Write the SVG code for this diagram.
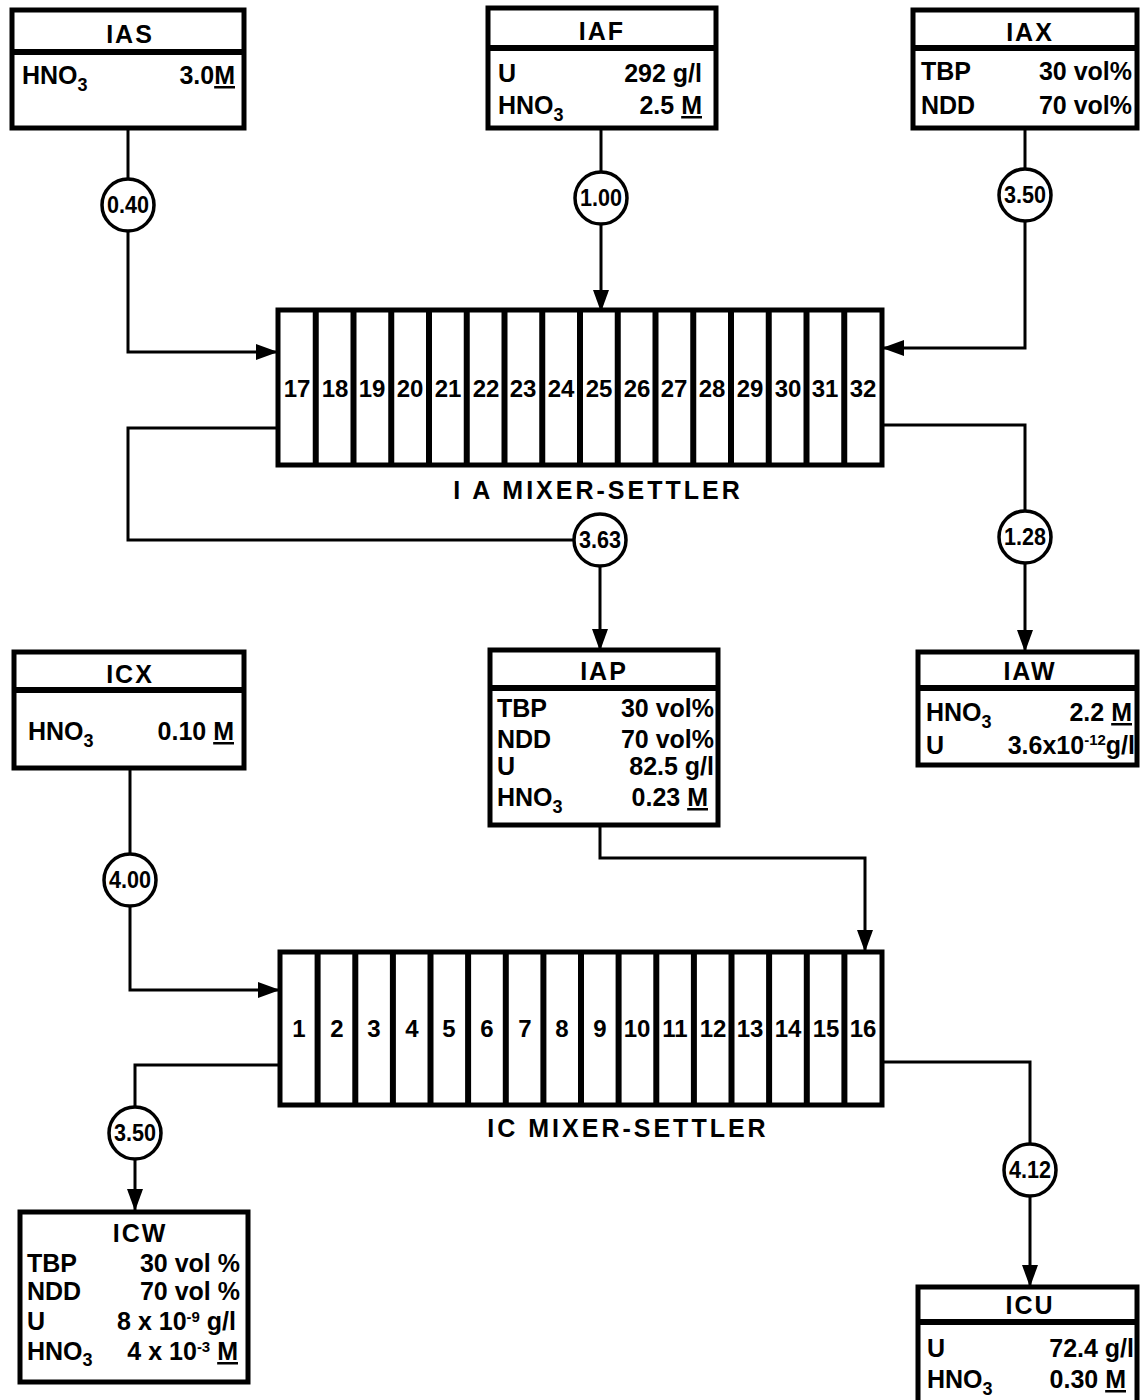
<svg xmlns="http://www.w3.org/2000/svg" width="1140" height="1400" viewBox="0 0 1140 1400">
<style>
text{font-family:"Liberation Sans",Arial,sans-serif;font-weight:bold;fill:#000}
.box{fill:#fff;stroke:#000;stroke-width:5}
.div{stroke:#000;stroke-width:6}
.t{font-size:25px}
.h{font-size:25px;text-anchor:middle;letter-spacing:2px}
.r{text-anchor:end}
.sub{font-size:18px}
.sup{font-size:15px}
.u{text-decoration:underline}
.c{fill:#fff;stroke:#000;stroke-width:3.5}
.ct{font-size:23px;text-anchor:middle}
.cell{font-size:24px;text-anchor:middle}
.ms{fill:#fff;stroke:#000;stroke-width:5}
.cd{stroke:#000;stroke-width:6}
.lbl{font-size:25px;text-anchor:middle;letter-spacing:3px}
.ln{fill:none;stroke:#000;stroke-width:3}
</style>
<defs>
<marker id="ah" viewBox="0 0 22 16" refX="22" refY="8" markerWidth="22" markerHeight="16" orient="auto" markerUnits="userSpaceOnUse">
<path d="M0,0 L22,8 L0,16 z" fill="#000"/>
</marker>
</defs>

<g id="connectors">
<path class="ln" d="M128,128 V180"/>
<path class="ln" d="M128,230 V352 H278" marker-end="url(#ah)"/>
<path class="ln" d="M601,128 V173"/>
<path class="ln" d="M601,223 V312" marker-end="url(#ah)"/>
<path class="ln" d="M1025,128 V170"/>
<path class="ln" d="M1025,220 V348 H882" marker-end="url(#ah)"/>
<path class="ln" d="M278,428 H128 V540 H575"/>
<path class="ln" d="M600,565 V651" marker-end="url(#ah)"/>
<path class="ln" d="M882,425 H1025 V512"/>
<path class="ln" d="M1025,562 V652" marker-end="url(#ah)"/>
<path class="ln" d="M600,825 V858 H865 V952" marker-end="url(#ah)"/>
<path class="ln" d="M130,768 V855"/>
<path class="ln" d="M130,905 V990 H280" marker-end="url(#ah)"/>
<path class="ln" d="M280,1065 H135 V1108"/>
<path class="ln" d="M135,1158 V1211" marker-end="url(#ah)"/>
<path class="ln" d="M882,1062 H1030 V1145"/>
<path class="ln" d="M1030,1195 V1287" marker-end="url(#ah)"/>
</g>

<g id="IAS">
<rect class="box" x="12" y="10" width="232" height="118"/>
<line class="div" x1="12" y1="52" x2="244" y2="52"/>
<text class="h" x="130" y="43">IAS</text>
<text class="t" x="22" y="84">HNO<tspan class="sub" dy="7">3</tspan></text>
<text class="t r" x="235" y="84">3.0<tspan class="u">M</tspan></text>
</g>

<g id="IAF">
<rect class="box" x="488" y="8" width="228" height="120"/>
<line class="div" x1="488" y1="48" x2="716" y2="48"/>
<text class="h" x="602" y="40">IAF</text>
<text class="t" x="498" y="82">U</text>
<text class="t r" x="702" y="82">292 g/l</text>
<text class="t" x="498" y="114">HNO<tspan class="sub" dy="7">3</tspan></text>
<text class="t r" x="702" y="114">2.5 <tspan class="u">M</tspan></text>
</g>

<g id="IAX">
<rect class="box" x="913" y="10" width="224" height="118"/>
<line class="div" x1="913" y1="48" x2="1137" y2="48"/>
<text class="h" x="1030" y="41">IAX</text>
<text class="t" x="921" y="80">TBP</text>
<text class="t r" x="1132" y="80">30 vol%</text>
<text class="t" x="921" y="114">NDD</text>
<text class="t r" x="1132" y="114">70 vol%</text>
</g>

<g id="flow-IAS"><circle class="c" cx="128" cy="205" r="26"/><text class="ct" x="128" y="213" textLength="42" lengthAdjust="spacingAndGlyphs">0.40</text></g>
<g id="flow-IAF"><circle class="c" cx="601" cy="198" r="26"/><text class="ct" x="601" y="206" textLength="42" lengthAdjust="spacingAndGlyphs">1.00</text></g>
<g id="flow-IAX"><circle class="c" cx="1025" cy="195" r="26"/><text class="ct" x="1025" y="203" textLength="42" lengthAdjust="spacingAndGlyphs">3.50</text></g>
<g id="flow-IAP"><circle class="c" cx="600" cy="540" r="26"/><text class="ct" x="600" y="548" textLength="42" lengthAdjust="spacingAndGlyphs">3.63</text></g>
<g id="flow-IAW"><circle class="c" cx="1025" cy="537" r="26"/><text class="ct" x="1025" y="545" textLength="42" lengthAdjust="spacingAndGlyphs">1.28</text></g>
<g id="flow-ICX"><circle class="c" cx="130" cy="880" r="26"/><text class="ct" x="130" y="888" textLength="42" lengthAdjust="spacingAndGlyphs">4.00</text></g>
<g id="flow-ICW"><circle class="c" cx="135" cy="1133" r="26"/><text class="ct" x="135" y="1141" textLength="42" lengthAdjust="spacingAndGlyphs">3.50</text></g>
<g id="flow-ICU"><circle class="c" cx="1030" cy="1170" r="26"/><text class="ct" x="1030" y="1178" textLength="42" lengthAdjust="spacingAndGlyphs">4.12</text></g>

<g id="IA-mixer-settler">
<rect class="ms" x="278" y="310" width="604" height="155"/>
<g class="cd">
<line x1="315.75" y1="310" x2="315.75" y2="465"/>
<line x1="353.5" y1="310" x2="353.5" y2="465"/>
<line x1="391.25" y1="310" x2="391.25" y2="465"/>
<line x1="429" y1="310" x2="429" y2="465"/>
<line x1="466.75" y1="310" x2="466.75" y2="465"/>
<line x1="504.5" y1="310" x2="504.5" y2="465"/>
<line x1="542.25" y1="310" x2="542.25" y2="465"/>
<line x1="580" y1="310" x2="580" y2="465"/>
<line x1="617.75" y1="310" x2="617.75" y2="465"/>
<line x1="655.5" y1="310" x2="655.5" y2="465"/>
<line x1="693.25" y1="310" x2="693.25" y2="465"/>
<line x1="731" y1="310" x2="731" y2="465"/>
<line x1="768.75" y1="310" x2="768.75" y2="465"/>
<line x1="806.5" y1="310" x2="806.5" y2="465"/>
<line x1="844.25" y1="310" x2="844.25" y2="465"/>
</g>
<text class="cell" x="297" y="397">17</text>
<text class="cell" x="335" y="397">18</text>
<text class="cell" x="372" y="397">19</text>
<text class="cell" x="410" y="397">20</text>
<text class="cell" x="448" y="397">21</text>
<text class="cell" x="486" y="397">22</text>
<text class="cell" x="523" y="397">23</text>
<text class="cell" x="561" y="397">24</text>
<text class="cell" x="599" y="397">25</text>
<text class="cell" x="637" y="397">26</text>
<text class="cell" x="674" y="397">27</text>
<text class="cell" x="712" y="397">28</text>
<text class="cell" x="750" y="397">29</text>
<text class="cell" x="788" y="397">30</text>
<text class="cell" x="825" y="397">31</text>
<text class="cell" x="863" y="397">32</text>
<text class="lbl" x="598" y="499">I A MIXER-SETTLER</text>
</g>

<g id="IAP">
<rect class="box" x="490" y="650" width="228" height="175"/>
<line class="div" x1="490" y1="688" x2="718" y2="688"/>
<text class="h" x="604" y="680">IAP</text>
<text class="t" x="497" y="717">TBP</text>
<text class="t r" x="714" y="717">30 vol%</text>
<text class="t" x="497" y="748">NDD</text>
<text class="t r" x="714" y="748">70 vol%</text>
<text class="t" x="497" y="775">U</text>
<text class="t r" x="714" y="775">82.5 g/l</text>
<text class="t" x="497" y="806">HNO<tspan class="sub" dy="7">3</tspan></text>
<text class="t r" x="708" y="806">0.23 <tspan class="u">M</tspan></text>
</g>

<g id="IAW">
<rect class="box" x="918" y="652" width="219" height="113"/>
<line class="div" x1="918" y1="688" x2="1137" y2="688"/>
<text class="h" x="1030" y="680">IAW</text>
<text class="t" x="926" y="721">HNO<tspan class="sub" dy="7">3</tspan></text>
<text class="t r" x="1132" y="721">2.2 <tspan class="u">M</tspan></text>
<text class="t" x="926" y="754">U</text>
<text class="t r" x="1135" y="754">3.6x10<tspan class="sup" dy="-9">-12</tspan><tspan dy="9">g/l</tspan></text>
</g>

<g id="ICX">
<rect class="box" x="14" y="652" width="230" height="116"/>
<line class="div" x1="14" y1="690" x2="244" y2="690"/>
<text class="h" x="130" y="683">ICX</text>
<text class="t" x="28" y="740">HNO<tspan class="sub" dy="7">3</tspan></text>
<text class="t r" x="234" y="740">0.10 <tspan class="u">M</tspan></text>
</g>

<g id="IC-mixer-settler">
<rect class="ms" x="280" y="952" width="602" height="153"/>
<g class="cd">
<line x1="317.6" y1="952" x2="317.6" y2="1105"/>
<line x1="355.3" y1="952" x2="355.3" y2="1105"/>
<line x1="392.9" y1="952" x2="392.9" y2="1105"/>
<line x1="430.5" y1="952" x2="430.5" y2="1105"/>
<line x1="468.1" y1="952" x2="468.1" y2="1105"/>
<line x1="505.8" y1="952" x2="505.8" y2="1105"/>
<line x1="543.4" y1="952" x2="543.4" y2="1105"/>
<line x1="581" y1="952" x2="581" y2="1105"/>
<line x1="618.6" y1="952" x2="618.6" y2="1105"/>
<line x1="656.3" y1="952" x2="656.3" y2="1105"/>
<line x1="693.9" y1="952" x2="693.9" y2="1105"/>
<line x1="731.5" y1="952" x2="731.5" y2="1105"/>
<line x1="769.1" y1="952" x2="769.1" y2="1105"/>
<line x1="806.8" y1="952" x2="806.8" y2="1105"/>
<line x1="844.4" y1="952" x2="844.4" y2="1105"/>
</g>
<text class="cell" x="299" y="1037">1</text>
<text class="cell" x="337" y="1037">2</text>
<text class="cell" x="374" y="1037">3</text>
<text class="cell" x="412" y="1037">4</text>
<text class="cell" x="449" y="1037">5</text>
<text class="cell" x="487" y="1037">6</text>
<text class="cell" x="525" y="1037">7</text>
<text class="cell" x="562" y="1037">8</text>
<text class="cell" x="600" y="1037">9</text>
<text class="cell" x="637" y="1037">10</text>
<text class="cell" x="675" y="1037">11</text>
<text class="cell" x="713" y="1037">12</text>
<text class="cell" x="750" y="1037">13</text>
<text class="cell" x="788" y="1037">14</text>
<text class="cell" x="826" y="1037">15</text>
<text class="cell" x="863" y="1037">16</text>
<text class="lbl" x="628" y="1137">IC MIXER-SETTLER</text>
</g>

<g id="ICW">
<rect class="box" x="20" y="1212" width="228" height="170"/>
<text class="h" x="140" y="1242">ICW</text>
<text class="t" x="27" y="1272">TBP</text>
<text class="t r" x="240" y="1272">30 vol %</text>
<text class="t" x="27" y="1300">NDD</text>
<text class="t r" x="240" y="1300">70 vol %</text>
<text class="t" x="27" y="1330">U</text>
<text class="t r" x="236" y="1330">8 x 10<tspan class="sup" dy="-8">-9</tspan><tspan dy="8"> g/l</tspan></text>
<text class="t" x="27" y="1360">HNO<tspan class="sub" dy="6">3</tspan></text>
<text class="t r" x="238" y="1360">4 x 10<tspan class="sup" dy="-8">-3</tspan><tspan dy="8"> </tspan><tspan class="u">M</tspan></text>
</g>

<g id="ICU">
<rect class="box" x="918" y="1287" width="219" height="120"/>
<line class="div" x1="918" y1="1322" x2="1137" y2="1322"/>
<text class="h" x="1030" y="1314">ICU</text>
<text class="t" x="927" y="1357">U</text>
<text class="t r" x="1134" y="1357">72.4 g/l</text>
<text class="t" x="927" y="1388">HNO<tspan class="sub" dy="7">3</tspan></text>
<text class="t r" x="1126" y="1388">0.30 <tspan class="u">M</tspan></text>
</g>
</svg>
